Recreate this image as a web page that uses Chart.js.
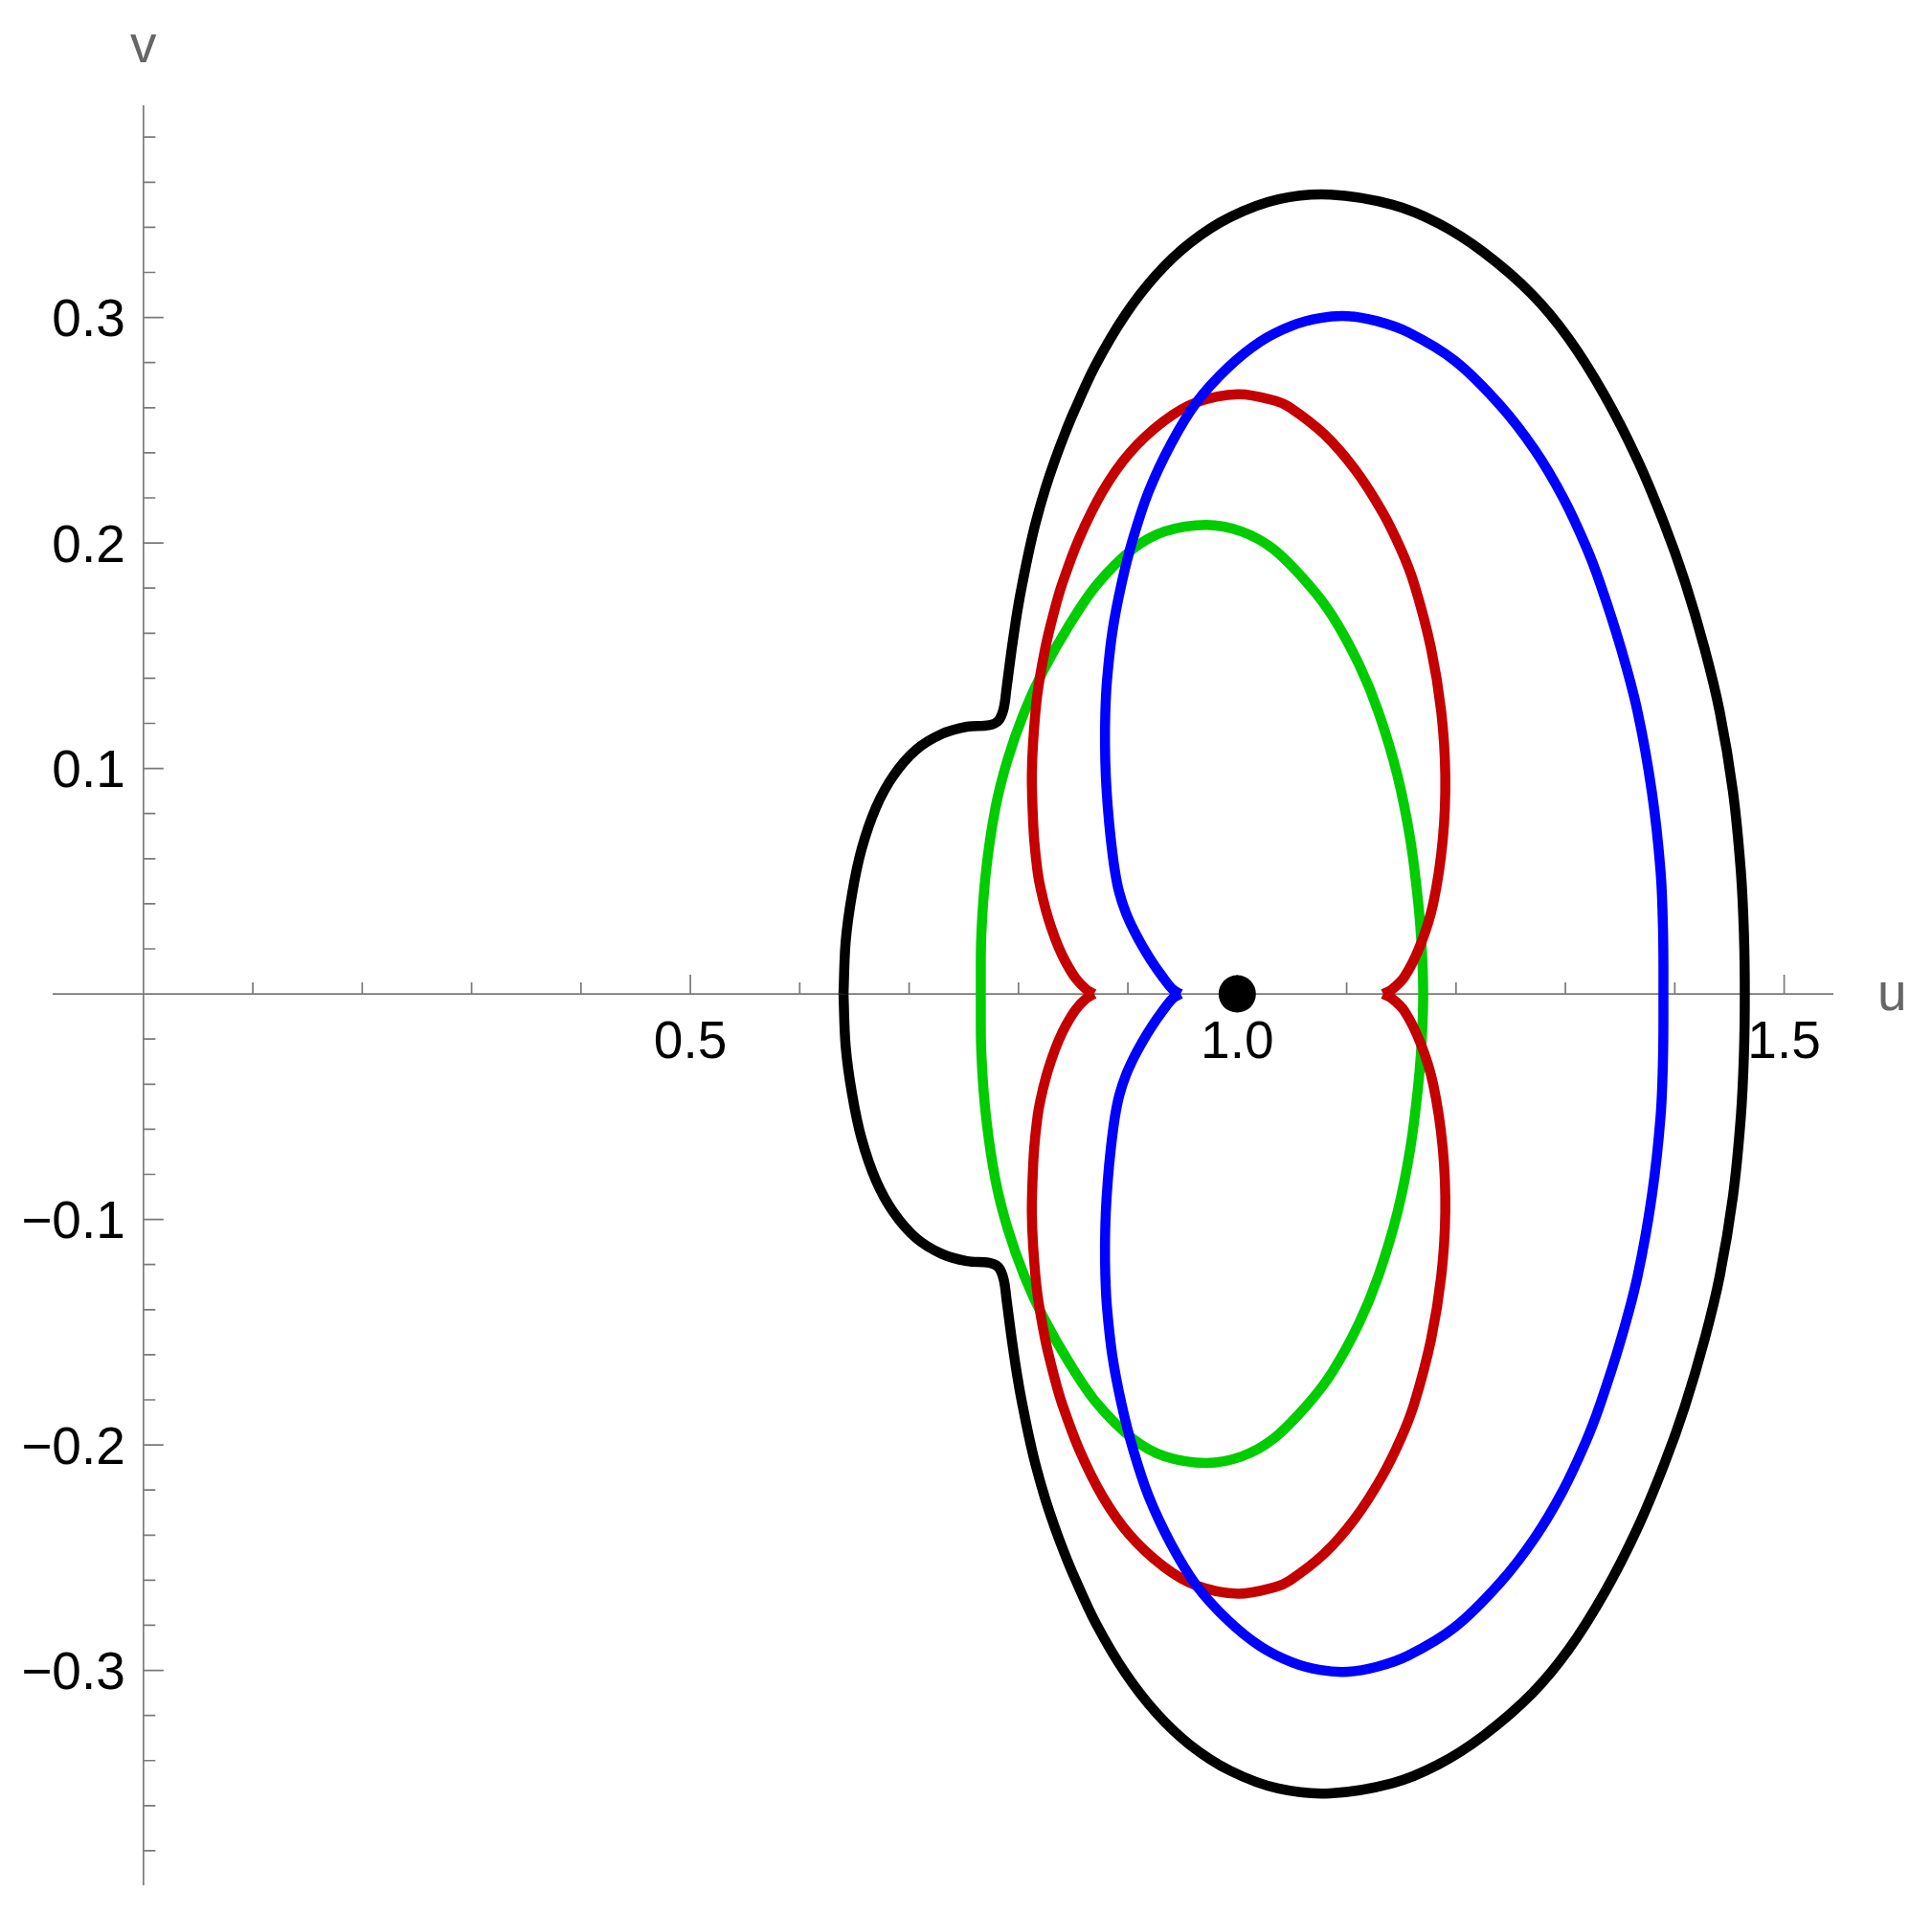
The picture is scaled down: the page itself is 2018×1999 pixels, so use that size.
<!DOCTYPE html>
<html><head><meta charset="utf-8">
<script src="https://cdn.jsdelivr.net/npm/chart.js@4.4.0/dist/chart.umd.min.js"></script>
<style>html,body{margin:0;padding:0;background:#fff;}canvas{display:block;}</style>
</head><body>
<canvas id="c" width="2018" height="1999"></canvas>
<script>
// ---- data ----
const xRange = [-0.083, 1.545];
const yRange = [-0.3953, 0.3941];

const xMajorTicks = [0.5, 1.0, 1.5];
const xTickLabels = ["0.5", "1.0", "1.5"];
const xMinorTicks = [0.1, 0.2, 0.3, 0.4, 0.6, 0.7, 0.8, 0.9, 1.1, 1.2, 1.3, 1.4];
const yMajorTicks = [-0.3, -0.2, -0.1, 0.1, 0.2, 0.3];
const yTickLabels = ["\u22120.3", "\u22120.2", "\u22120.1", "0.1", "0.2", "0.3"];
const yMinorTicks = [-0.38, -0.36, -0.34, -0.32, -0.28, -0.26, -0.24, -0.22, -0.18, -0.16, -0.14, -0.12,
  -0.08, -0.06, -0.04, -0.02, 0.02, 0.04, 0.06, 0.08, 0.12, 0.14, 0.16, 0.18, 0.22, 0.24, 0.26, 0.28,
  0.32, 0.34, 0.36, 0.38];

// black: closed loop, leftmost point -> upper half -> rightmost -> lower half -> back
const blackU = [0.640, 0.642, 0.6479, 0.6566, 0.6697, 0.6857, 0.7062, 0.7295, 0.7528, 0.7732, 0.7815, 0.7864,
  0.7893, 0.7912, 0.7938, 0.7974, 0.8008, 0.8034, 0.8094, 0.8157, 0.8245, 0.8335, 0.842, 0.8505, 0.8706, 0.8974,
  0.9262, 0.9567, 0.9936, 1.0376, 1.085, 1.142, 1.184, 1.225, 1.269, 1.303, 1.336, 1.3658, 1.3903, 1.409, 1.4271,
  1.4411, 1.4532, 1.4604, 1.4632, 1.464,
  1.4632, 1.4604, 1.4532, 1.4411, 1.4271, 1.409, 1.3903, 1.3658, 1.336, 1.303, 1.269, 1.225, 1.184, 1.142, 1.085,
  1.0376, 0.9936, 0.9567, 0.9262, 0.8974, 0.8706, 0.8505, 0.842, 0.8335, 0.8245, 0.8157, 0.8094, 0.8034, 0.8008,
  0.7974, 0.7938, 0.7912, 0.7893, 0.7864, 0.7815, 0.7732, 0.7528, 0.7295, 0.7062, 0.6857, 0.6697, 0.6566, 0.6479,
  0.642, 0.640];
const blackV = [0.000, 0.0232, 0.0445, 0.0643, 0.0827, 0.0968, 0.1082, 0.1152, 0.1185, 0.1192, 0.1211, 0.1265,
  0.1364, 0.1435, 0.153, 0.165, 0.175, 0.1817, 0.196, 0.209, 0.224, 0.237, 0.248, 0.258, 0.279, 0.301,
  0.319, 0.333, 0.3445, 0.3524, 0.3545, 0.350, 0.3417, 0.329, 0.3105, 0.2907, 0.2653, 0.237, 0.2086, 0.1832, 0.1534,
  0.1251, 0.0897, 0.0544, 0.027, 0.000,
  -0.027, -0.0544, -0.0897, -0.1251, -0.1534, -0.1832, -0.2086, -0.237, -0.2653, -0.2907, -0.3105, -0.329, -0.3417,
  -0.350, -0.3545, -0.3524, -0.3445, -0.333, -0.319, -0.301, -0.279, -0.258, -0.248, -0.237, -0.224, -0.209, -0.196,
  -0.1817, -0.175, -0.165, -0.153, -0.1435, -0.1364, -0.1265, -0.1211, -0.1192, -0.1185, -0.1152, -0.1082, -0.0968,
  -0.0827, -0.0643, -0.0445, -0.0232, 0.000];

// blue: starts and ends at its cusp
const blueU = [0.948, 0.941, 0.9311, 0.9224, 0.9135, 0.9057, 0.8982, 0.8921, 0.888, 0.8843, 0.8816, 0.8798, 0.8791,
  0.8794, 0.8809, 0.8858, 0.8941, 0.9045, 0.919, 0.9395, 0.9628, 0.992, 1.021, 1.050, 1.076, 1.101, 1.127, 1.156,
  1.199, 1.2405, 1.272, 1.298, 1.3186, 1.332, 1.3507, 1.366, 1.379, 1.387, 1.3893, 1.3896,
  1.3893, 1.387, 1.379, 1.366, 1.3507, 1.332, 1.3186, 1.298, 1.272, 1.2405, 1.199, 1.156, 1.127, 1.101, 1.076, 1.050,
  1.021, 0.992, 0.9628, 0.9395, 0.919, 0.9045, 0.8941, 0.8858, 0.8809, 0.8794, 0.8791, 0.8798, 0.8816, 0.8843, 0.888,
  0.8921, 0.8982, 0.9057, 0.9135, 0.9224, 0.9311, 0.941, 0.948];
const blueV = [0.000, 0.002, 0.008, 0.014, 0.021, 0.028, 0.036, 0.045, 0.055, 0.069, 0.083, 0.097, 0.111,
  0.125, 0.139, 0.1605, 0.1817, 0.2016, 0.2228, 0.244, 0.2624, 0.278, 0.2893, 0.2964, 0.2998, 0.3006, 0.2985, 0.2935,
  0.2808, 0.261, 0.2412, 0.220, 0.1987, 0.1817, 0.1534, 0.1251, 0.0897, 0.0544, 0.027, 0.000,
  -0.027, -0.0544, -0.0897, -0.1251, -0.1534, -0.1817, -0.1987, -0.220, -0.2412, -0.261, -0.2808, -0.2935, -0.2985,
  -0.3006, -0.2998, -0.2964, -0.2893, -0.278, -0.2624, -0.244, -0.2228, -0.2016, -0.1817, -0.1605, -0.139, -0.125,
  -0.111, -0.097, -0.083, -0.069, -0.055, -0.045, -0.036, -0.028, -0.021, -0.014, -0.008, -0.002, 0.000];

// red upper lobe: left cusp -> top -> right cusp
const redUpperU = [0.869, 0.862, 0.8522, 0.8433, 0.8364, 0.8302, 0.8251, 0.8201, 0.8174, 0.8144, 0.8128, 0.8122,
  0.8133, 0.8170, 0.8245, 0.8330, 0.8398, 0.8551, 0.8768, 0.9014, 0.9325, 0.9628, 1.0007, 1.0345, 1.0485, 1.0794,
  1.1075, 1.132, 1.1494, 1.1618, 1.1771, 1.1865, 1.1902, 1.1879, 1.1792, 1.1675, 1.1529, 1.1415, 1.1335];
const redUpperV = [0.000, 0.002, 0.007, 0.014, 0.021, 0.029, 0.037, 0.047, 0.0544, 0.068, 0.083, 0.097,
  0.111, 0.132, 0.1534, 0.1704, 0.1817, 0.2016, 0.2228, 0.2398, 0.2539, 0.2624, 0.266, 0.2631, 0.2600, 0.2483,
  0.2327, 0.2143, 0.1974, 0.1817, 0.1534, 0.1251, 0.0968, 0.0685, 0.0402, 0.0218, 0.0076, 0.002, 0.000];
// red lower lobe: right cusp -> bottom -> left cusp
const redLowerU = [1.1335, 1.1415, 1.1529, 1.1675, 1.1792, 1.1879, 1.1902, 1.1865, 1.1771, 1.1618, 1.1494, 1.132,
  1.1075, 1.0794, 1.0485, 1.0345, 1.0007, 0.9628, 0.9325, 0.9014, 0.8768, 0.8551, 0.8398, 0.8330, 0.8245, 0.8170,
  0.8133, 0.8122, 0.8128, 0.8144, 0.8174, 0.8201, 0.8251, 0.8302, 0.8364, 0.8433, 0.8522, 0.862, 0.869];
const redLowerV = [0.000, -0.002, -0.0076, -0.0218, -0.0402, -0.0685, -0.0968, -0.1251, -0.1534, -0.1817, -0.1974,
  -0.2143, -0.2327, -0.2483, -0.2600, -0.2631, -0.266, -0.2624, -0.2539, -0.2398, -0.2228, -0.2016, -0.1817, -0.1704,
  -0.1534, -0.132, -0.111, -0.097, -0.083, -0.068, -0.0544, -0.047, -0.037, -0.029, -0.021, -0.014, -0.007, -0.002,
  0.000];

// green: closed loop
const greenU = [0.7655, 0.766, 0.7703, 0.779, 0.790, 0.8054, 0.8228, 0.8462, 0.872, 0.9045, 0.9337, 0.9716,
  1.004, 1.033, 1.065, 1.087, 1.111, 1.129, 1.1465, 1.1582, 1.1655, 1.1687, 1.170,
  1.1687, 1.1655, 1.1582, 1.1465, 1.129, 1.111, 1.087, 1.065, 1.033, 1.004, 0.9716, 0.9337, 0.9045, 0.872,
  0.8462, 0.8228, 0.8054, 0.790, 0.779, 0.7703, 0.766, 0.7655];
const greenV = [0.000, 0.026, 0.0544, 0.0827, 0.1039, 0.1251, 0.1435, 0.1634, 0.1817, 0.1973, 0.2051, 0.208,
  0.2051, 0.1973, 0.1817, 0.1676, 0.1464, 0.1251, 0.0968, 0.0685, 0.0402, 0.020, 0.000,
  -0.020, -0.0402, -0.0685, -0.0968, -0.1251, -0.1464, -0.1676, -0.1817, -0.1973, -0.2051, -0.208, -0.2051, -0.1973,
  -0.1817, -0.1634, -0.1435, -0.1251, -0.1039, -0.0827, -0.0544, -0.026, 0.000];

const dotU = [1.0];
const dotV = [0.0];

// ---- chart ----
const pts = (us, vs) => us.map((u, i) => ({x: u, y: vs[i]}));
const lineDs = (data, color) => ({
  data, borderColor: color, backgroundColor: color, showLine: true, pointRadius: 0,
  borderWidth: 10.5, tension: 0.35, fill: false, borderJoinStyle: 'round', borderCapStyle: 'butt', clip: false
});

const FONT = '55px "Liberation Sans", Arial, sans-serif';
const axesPlugin = {
  id: 'mmaAxes',
  beforeDatasetsDraw(chart) {
    const ctx = chart.ctx, xs = chart.scales.x, ys = chart.scales.y, ca = chart.chartArea;
    const x0 = xs.getPixelForValue(0), y0 = ys.getPixelForValue(0);
    ctx.save();
    ctx.strokeStyle = '#7a7a7a';
    ctx.lineWidth = 1.7;
    ctx.beginPath();
    ctx.moveTo(ca.left, y0); ctx.lineTo(ca.right, y0);
    ctx.moveTo(x0, ca.top); ctx.lineTo(x0, ca.bottom);
    xMinorTicks.forEach(t => { const p = xs.getPixelForValue(t); ctx.moveTo(p, y0); ctx.lineTo(p, y0 - 12); });
    xMajorTicks.forEach(t => { const p = xs.getPixelForValue(t); ctx.moveTo(p, y0); ctx.lineTo(p, y0 - 20); });
    yMinorTicks.forEach(t => { const p = ys.getPixelForValue(t); ctx.moveTo(x0, p); ctx.lineTo(x0 + 12.5, p); });
    yMajorTicks.forEach(t => { const p = ys.getPixelForValue(t); ctx.moveTo(x0, p); ctx.lineTo(x0 + 21, p); });
    ctx.stroke();

    ctx.font = FONT;
    ctx.fillStyle = '#000';
    ctx.textBaseline = 'alphabetic';
    ctx.textAlign = 'center';
    xMajorTicks.forEach((t, i) => ctx.fillText(xTickLabels[i], xs.getPixelForValue(t), y0 + 67));
    ctx.textAlign = 'right';
    yMajorTicks.forEach((t, i) => ctx.fillText(yTickLabels[i], x0 - 19, ys.getPixelForValue(t) + 19.5));

    ctx.fillStyle = '#666';
    ctx.textAlign = 'center';
    ctx.fillText('v', x0, ca.top - 45);
    ctx.textAlign = 'left';
    ctx.fillText('u', ca.right + 46, y0 + 17);
    ctx.restore();
  }
};

new Chart(document.getElementById('c'), {
  type: 'scatter',
  data: {
    datasets: [
      {data: pts(dotU, dotV), pointRadius: 19.5, pointHoverRadius: 19.5, backgroundColor: '#000', borderWidth: 0, showLine: false, clip: false},
      lineDs(pts(blackU, blackV), '#000000'),
      lineDs(pts(blueU, blueV), '#0000ff'),
      lineDs(pts(redUpperU, redUpperV), '#c40000'),
      lineDs(pts(redLowerU, redLowerV), '#c40000'),
      lineDs(pts(greenU, greenV), '#00cc00')
    ]
  },
  options: {
    responsive: false,
    devicePixelRatio: 1,
    animation: false,
    events: [],
    layout: {padding: {left: 55, right: 103, top: 110, bottom: 30}},
    plugins: {legend: {display: false}, tooltip: {enabled: false}},
    scales: {
      x: {type: 'linear', display: false, min: xRange[0], max: xRange[1]},
      y: {type: 'linear', display: false, min: yRange[0], max: yRange[1]}
    }
  },
  plugins: [axesPlugin]
});
</script>
</body></html>
